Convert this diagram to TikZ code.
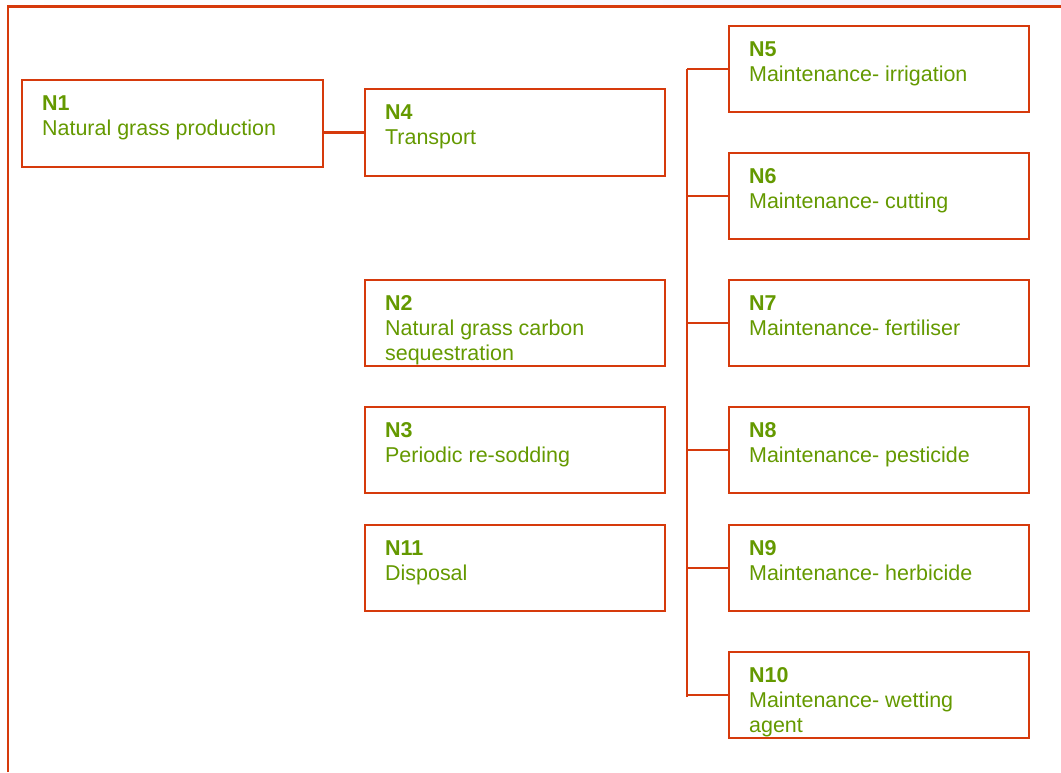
\documentclass[tikz,border=0pt]{standalone}
\usepackage{fontspec}
\setmainfont{Liberation Sans}
\usepackage{tikz}
\usetikzlibrary{positioning}

\definecolor{boxred}{RGB}{214,58,12}
\definecolor{grassgreen}{RGB}{100,153,0}
\definecolor{bandcol}{RGB}{243,243,253}

\begin{document}
\begin{tikzpicture}[x=0.75pt,y=-0.75pt,
  box/.style={shape=rectangle,draw=boxred,line width=1.7pt,minimum width=225pt,minimum height=65pt,inner sep=0pt},
  label txt/.style={inner sep=0pt,align=left,text=grassgreen,font=\fontsize{16.1}{18.75}\selectfont},
  link/.style={draw=boxred,line width=1.7pt}]
\useasboundingbox (0,0) rectangle (1061,772);
\shade[left color=white,right color=bandcol] (0,0) rectangle (1061,5.5);

% outer frame
\coordinate (framebl) at (8,772);
\coordinate (frametl) at (8,6.5);
\coordinate (frametr) at (1061,6.5);
\draw [link] (framebl) -- (frametl) -- (frametr);

% boxes
\path (172.5,123.5) node (n1) [box,minimum width=225.75pt] {};
\path (515,132.5) node (n4) [box] {};
\path (515,323) node (n2) [box] {};
\path (515,450) node (n3) [box] {};
\path (515,568) node (n11) [box] {};
\path (879,69) node (n5) [box] {};
\path (879,196) node (n6) [box] {};
\path (879,323) node (n7) [box] {};
\path (879,450) node (n8) [box] {};
\path (879,568) node (n9) [box] {};
\path (879,695) node (n10) [box] {};

% texts
\node (n1t) [label txt,below right=12.4pt and 15.75pt of n1.north west] {\textbf{N1}\\Natural grass production};
\node (n4t) [label txt,below right=12.4pt and 15.75pt of n4.north west] {\textbf{N4}\\Transport};
\node (n2t) [label txt,below right=12.4pt and 15.75pt of n2.north west] {\textbf{N2}\\Natural grass carbon\\sequestration};
\node (n3t) [label txt,below right=12.4pt and 15.75pt of n3.north west] {\textbf{N3}\\Periodic re-sodding};
\node (n11t) [label txt,below right=12.4pt and 15.75pt of n11.north west] {\textbf{N11}\\Disposal};
\node (n5t) [label txt,below right=12.4pt and 15.75pt of n5.north west] {\textbf{N5}\\Maintenance- irrigation};
\node (n6t) [label txt,below right=12.4pt and 15.75pt of n6.north west] {\textbf{N6}\\Maintenance- cutting};
\node (n7t) [label txt,below right=12.4pt and 15.75pt of n7.north west] {\textbf{N7}\\Maintenance- fertiliser};
\node (n8t) [label txt,below right=12.4pt and 15.75pt of n8.north west] {\textbf{N8}\\Maintenance- pesticide};
\node (n9t) [label txt,below right=12.4pt and 15.75pt of n9.north west] {\textbf{N9}\\Maintenance- herbicide};
\node (n10t) [label txt,below right=12.4pt and 15.75pt of n10.north west] {\textbf{N10}\\Maintenance- wetting\\agent};

% links
\draw [link] (n4.west) -- (n4.west -| n1.east);

\coordinate (bustop) at (687,69);
\coordinate (busbot) at (687,697);
\draw [link] (bustop) -- (busbot);
\draw [link] (n5.west) -- (n5.west -| bustop);
\draw [link] (n6.west) -- (n6.west -| bustop);
\draw [link] (n7.west) -- (n7.west -| bustop);
\draw [link] (n8.west) -- (n8.west -| bustop);
\draw [link] (n9.west) -- (n9.west -| bustop);
\draw [link] (n10.west) -- (n10.west -| bustop);
\end{tikzpicture}
\end{document}
